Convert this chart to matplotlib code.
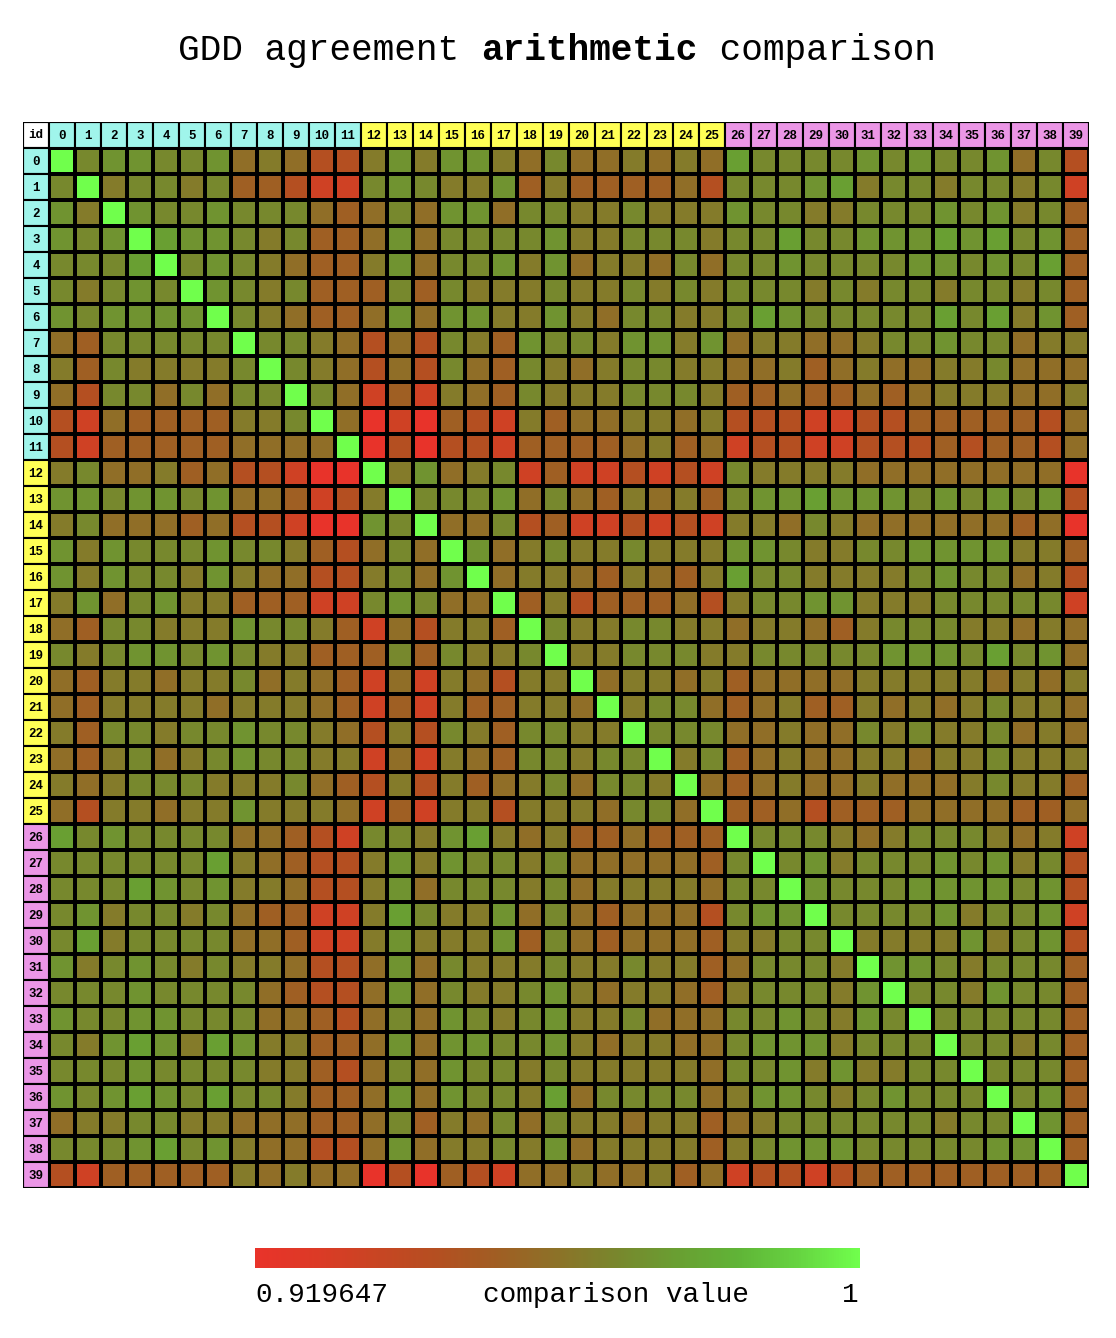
import numpy as np
import matplotlib
matplotlib.use('Agg')
import matplotlib.pyplot as plt
from matplotlib.colors import LinearSegmentedColormap, Normalize
from matplotlib.patches import Rectangle
from matplotlib.cm import ScalarMappable

# ---------------- data ----------------
ids = list(range(40))
group_sizes = [12, 14, 14]
group_colors = ['#a0f5eb', '#ffff55', '#eb96e6']
vmin, vmax = 0.919647, 1.0

# upper triangle rows: row_i holds values for columns i+1 .. 39 (diagonal = 1)
row_00 = [0.968, 0.972, 0.972, 0.968, 0.968, 0.972, 0.958, 0.963, 0.958, 0.944,
          0.944, 0.963, 0.972, 0.963, 0.972, 0.972, 0.963, 0.958, 0.968, 0.958,
          0.958, 0.963, 0.958, 0.963, 0.958, 0.976, 0.968, 0.968, 0.968, 0.968,
          0.972, 0.968, 0.972, 0.968, 0.968, 0.972, 0.958, 0.968, 0.944]
row_01 = [0.963, 0.968, 0.968, 0.963, 0.968, 0.952, 0.952, 0.944, 0.933, 0.933,
          0.968, 0.972, 0.968, 0.963, 0.963, 0.972, 0.952, 0.963, 0.952, 0.952,
          0.952, 0.952, 0.958, 0.944, 0.968, 0.968, 0.968, 0.972, 0.976, 0.963,
          0.968, 0.968, 0.963, 0.968, 0.968, 0.963, 0.968, 0.933]
row_02 = [0.972, 0.968, 0.968, 0.972, 0.968, 0.968, 0.968, 0.958, 0.952, 0.958,
          0.968, 0.958, 0.972, 0.972, 0.958, 0.968, 0.968, 0.963, 0.963, 0.968,
          0.963, 0.963, 0.963, 0.972, 0.968, 0.968, 0.963, 0.963, 0.968, 0.968,
          0.968, 0.972, 0.968, 0.972, 0.963, 0.968, 0.952]
row_03 = [0.976, 0.972, 0.972, 0.968, 0.963, 0.968, 0.952, 0.952, 0.958, 0.972,
          0.958, 0.968, 0.968, 0.968, 0.968, 0.972, 0.963, 0.963, 0.968, 0.968,
          0.968, 0.963, 0.968, 0.968, 0.976, 0.968, 0.968, 0.972, 0.972, 0.972,
          0.976, 0.972, 0.976, 0.968, 0.972, 0.952]
row_04 = [0.968, 0.972, 0.968, 0.963, 0.958, 0.952, 0.952, 0.963, 0.972, 0.958,
          0.968, 0.968, 0.972, 0.963, 0.972, 0.958, 0.963, 0.963, 0.958, 0.968,
          0.958, 0.968, 0.968, 0.972, 0.968, 0.968, 0.968, 0.968, 0.972, 0.972,
          0.968, 0.972, 0.968, 0.976, 0.952]
row_05 = [0.972, 0.968, 0.963, 0.968, 0.952, 0.952, 0.952, 0.968, 0.952, 0.968,
          0.963, 0.963, 0.963, 0.968, 0.963, 0.963, 0.968, 0.963, 0.968, 0.963,
          0.968, 0.968, 0.968, 0.963, 0.968, 0.963, 0.968, 0.968, 0.963, 0.968,
          0.968, 0.963, 0.968, 0.952]
row_06 = [0.968, 0.963, 0.958, 0.952, 0.952, 0.958, 0.972, 0.958, 0.972, 0.972,
          0.963, 0.963, 0.972, 0.963, 0.958, 0.968, 0.968, 0.963, 0.963, 0.968,
          0.976, 0.972, 0.968, 0.968, 0.968, 0.968, 0.968, 0.976, 0.968, 0.976,
          0.963, 0.972, 0.952]
row_07 = [0.968, 0.968, 0.963, 0.958, 0.944, 0.958, 0.944, 0.968, 0.963, 0.952,
          0.972, 0.968, 0.968, 0.963, 0.972, 0.972, 0.963, 0.972, 0.958, 0.963,
          0.963, 0.958, 0.958, 0.963, 0.968, 0.968, 0.972, 0.968, 0.968, 0.958,
          0.963, 0.963]
row_08 = [0.968, 0.963, 0.958, 0.944, 0.958, 0.944, 0.968, 0.958, 0.952, 0.968,
          0.963, 0.958, 0.963, 0.968, 0.968, 0.963, 0.963, 0.958, 0.958, 0.963,
          0.952, 0.958, 0.963, 0.958, 0.958, 0.963, 0.963, 0.968, 0.958, 0.958,
          0.958]
row_09 = [0.968, 0.958, 0.933, 0.952, 0.933, 0.963, 0.958, 0.952, 0.968, 0.963,
          0.963, 0.963, 0.968, 0.968, 0.968, 0.963, 0.952, 0.952, 0.958, 0.952,
          0.952, 0.958, 0.952, 0.958, 0.963, 0.963, 0.963, 0.958, 0.958, 0.963]
row_10 = [0.958, 0.920, 0.933, 0.920, 0.952, 0.944, 0.933, 0.963, 0.952, 0.958,
          0.958, 0.963, 0.963, 0.958, 0.963, 0.944, 0.944, 0.944, 0.933, 0.933,
          0.944, 0.944, 0.952, 0.952, 0.952, 0.952, 0.952, 0.944, 0.958]
row_11 = [0.920, 0.944, 0.920, 0.944, 0.944, 0.933, 0.952, 0.952, 0.952, 0.952,
          0.958, 0.963, 0.952, 0.958, 0.933, 0.944, 0.944, 0.933, 0.933, 0.944,
          0.944, 0.944, 0.952, 0.944, 0.952, 0.952, 0.944, 0.958]
row_12 = [0.963, 0.972, 0.958, 0.963, 0.968, 0.933, 0.952, 0.933, 0.933, 0.944,
          0.933, 0.944, 0.933, 0.968, 0.963, 0.963, 0.963, 0.963, 0.958, 0.958,
          0.958, 0.958, 0.958, 0.958, 0.958, 0.958, 0.920]
row_13 = [0.968, 0.968, 0.968, 0.972, 0.958, 0.968, 0.958, 0.952, 0.963, 0.958,
          0.963, 0.952, 0.968, 0.972, 0.972, 0.976, 0.972, 0.972, 0.972, 0.968,
          0.972, 0.968, 0.972, 0.968, 0.972, 0.944]
row_14 = [0.958, 0.958, 0.968, 0.944, 0.952, 0.933, 0.933, 0.944, 0.933, 0.944,
          0.933, 0.963, 0.963, 0.958, 0.968, 0.963, 0.958, 0.958, 0.958, 0.958,
          0.958, 0.958, 0.952, 0.958, 0.920]
row_15 = [0.972, 0.958, 0.963, 0.968, 0.963, 0.963, 0.968, 0.963, 0.963, 0.963,
          0.972, 0.972, 0.968, 0.963, 0.963, 0.968, 0.968, 0.972, 0.972, 0.972,
          0.972, 0.963, 0.963, 0.952]
row_16 = [0.958, 0.963, 0.963, 0.958, 0.952, 0.963, 0.958, 0.952, 0.963, 0.976,
          0.968, 0.968, 0.963, 0.963, 0.963, 0.963, 0.968, 0.972, 0.968, 0.968,
          0.958, 0.963, 0.944]
row_17 = [0.952, 0.963, 0.944, 0.952, 0.952, 0.952, 0.958, 0.944, 0.963, 0.968,
          0.968, 0.972, 0.972, 0.963, 0.963, 0.963, 0.968, 0.968, 0.968, 0.968,
          0.968, 0.933]
row_18 = [0.968, 0.963, 0.963, 0.968, 0.968, 0.963, 0.963, 0.958, 0.963, 0.963,
          0.958, 0.952, 0.963, 0.968, 0.968, 0.968, 0.963, 0.963, 0.958, 0.963,
          0.958]
row_19 = [0.963, 0.963, 0.968, 0.968, 0.968, 0.963, 0.963, 0.968, 0.968, 0.968,
          0.968, 0.968, 0.972, 0.972, 0.972, 0.968, 0.976, 0.968, 0.972, 0.958]
row_20 = [0.958, 0.963, 0.963, 0.958, 0.963, 0.952, 0.958, 0.958, 0.958, 0.958,
          0.963, 0.963, 0.963, 0.963, 0.963, 0.958, 0.963, 0.958, 0.963]
row_21 = [0.963, 0.968, 0.968, 0.958, 0.952, 0.958, 0.963, 0.952, 0.952, 0.963,
          0.958, 0.963, 0.958, 0.963, 0.968, 0.963, 0.963, 0.958]
row_22 = [0.968, 0.968, 0.968, 0.958, 0.958, 0.963, 0.958, 0.958, 0.968, 0.963,
          0.968, 0.963, 0.963, 0.968, 0.958, 0.963, 0.958]
row_23 = [0.963, 0.968, 0.952, 0.958, 0.963, 0.958, 0.958, 0.963, 0.963, 0.958,
          0.963, 0.963, 0.968, 0.963, 0.963, 0.963]
row_24 = [0.958, 0.952, 0.958, 0.963, 0.958, 0.958, 0.963, 0.958, 0.958, 0.958,
          0.963, 0.968, 0.963, 0.963, 0.952]
row_25 = [0.952, 0.952, 0.958, 0.944, 0.952, 0.952, 0.952, 0.958, 0.958, 0.958,
          0.958, 0.952, 0.952, 0.958]
row_26 = [0.968, 0.968, 0.968, 0.963, 0.958, 0.963, 0.968, 0.968, 0.968, 0.963,
          0.958, 0.963, 0.933]
row_27 = [0.968, 0.972, 0.963, 0.968, 0.968, 0.968, 0.972, 0.968, 0.972, 0.963,
          0.968, 0.944]
row_28 = [0.972, 0.968, 0.968, 0.968, 0.972, 0.972, 0.972, 0.972, 0.968, 0.972,
          0.944]
row_29 = [0.968, 0.968, 0.968, 0.968, 0.972, 0.963, 0.968, 0.968, 0.972, 0.933]
row_30 = [0.963, 0.963, 0.963, 0.963, 0.972, 0.963, 0.968, 0.972, 0.944]
row_31 = [0.972, 0.972, 0.968, 0.963, 0.968, 0.968, 0.968, 0.952]
row_32 = [0.968, 0.968, 0.963, 0.972, 0.968, 0.968, 0.952]
row_33 = [0.968, 0.968, 0.968, 0.968, 0.968, 0.952]
row_34 = [0.968, 0.968, 0.963, 0.968, 0.952]
row_35 = [0.968, 0.968, 0.968, 0.952]
row_36 = [0.968, 0.972, 0.952]
row_37 = [0.972, 0.952]
row_38 = [0.952]

rows = [row_00, row_01, row_02, row_03, row_04, row_05, row_06, row_07, row_08, row_09,
        row_10, row_11, row_12, row_13, row_14, row_15, row_16, row_17, row_18, row_19,
        row_20, row_21, row_22, row_23, row_24, row_25, row_26, row_27, row_28, row_29,
        row_30, row_31, row_32, row_33, row_34, row_35, row_36, row_37, row_38]

n = len(ids)
M = np.ones((n, n))
for i, r in enumerate(rows):
    assert len(r) == n - 1 - i, (i, len(r))
    for k, v in enumerate(r):
        j = i + 1 + k
        M[i, j] = v
        M[j, i] = v

# colormap (red -> brown -> olive -> green)
cmap_pos = [0.0, 0.1, 0.2, 0.3, 0.4, 0.5, 0.6, 0.7, 0.8, 0.9, 1.0]
cmap_col = ['#e9332a', '#dc3a26', '#c84523', '#b44f21', '#a05e23', '#8c7228',
            '#78872d', '#699f32', '#60b437', '#66d441', '#70ff4c']
cmap = LinearSegmentedColormap.from_list('gdd', list(zip(cmap_pos, cmap_col)))
norm = Normalize(vmin=vmin, vmax=vmax)

# header colours per id
hdr_colors = []
for size, col in zip(group_sizes, group_colors):
    hdr_colors += [col] * size

W, H = 1116, 1338
fig = plt.figure(figsize=(W / 100, H / 100), dpi=100)
mono = 'Liberation Mono'

ax = fig.add_axes([23 / W, 1 - 1188 / H, 1066 / W, 1066 / H])
ax.set_xlim(0, n + 1)
ax.set_ylim(n + 1, 0)
ax.axis('off')

lw = 1.5
edges = np.arange(1, n + 2)
ax.pcolormesh(edges, edges, M, cmap=cmap, norm=norm, edgecolors='black', linewidth=lw)

ax.add_patch(Rectangle((0, 0), 1, 1, facecolor='white', edgecolor='black', lw=lw))
ax.text(0.5, 0.5, 'id', ha='center', va='center', fontsize=9, fontweight='bold', family=mono)
for k in ids:
    ax.add_patch(Rectangle((k + 1, 0), 1, 1, facecolor=hdr_colors[k], edgecolor='black', lw=lw))
    ax.add_patch(Rectangle((0, k + 1), 1, 1, facecolor=hdr_colors[k], edgecolor='black', lw=lw))
    ax.text(k + 1.5, 0.55, str(k), ha='center', va='center', fontsize=9, fontweight='bold', family=mono)
    ax.text(0.5, k + 1.55, str(k), ha='center', va='center', fontsize=9, fontweight='bold', family=mono)
ax.add_patch(Rectangle((0, 0), n + 1, n + 1, facecolor='none', edgecolor='black', lw=lw, zorder=5))

# title (mixed weight, monospace)
fs_t = 26
cw = 0.6 * fs_t * 100 / 72
parts = [('GDD agreement ', 'normal'), ('arithmetic', 'bold'), (' comparison', 'normal')]
total = sum(len(p) for p, _ in parts)
x0 = 557 - total * cw / 2
ty = 1 - 50 / H
for p, wgt in parts:
    fig.text(x0 / W, ty, p, ha='left', va='center', fontsize=fs_t, fontweight=wgt, family=mono)
    x0 += len(p) * cw

# colorbar
cax = fig.add_axes([255 / W, 1 - 1268 / H, 605 / W, 20 / H])
cb = fig.colorbar(ScalarMappable(norm=norm, cmap=cmap), cax=cax, orientation='horizontal')
cb.set_ticks([])
cb.outline.set_visible(False)

ly = 1 - 1295 / H
fig.text(255 / W, ly, '%g' % vmin, ha='left', va='center', fontsize=20, family=mono)
fig.text(616 / W, ly, 'comparison value', ha='center', va='center', fontsize=20, family=mono)
fig.text(859 / W, ly, '%g' % vmax, ha='right', va='center', fontsize=20, family=mono)

fig.savefig('out.png', dpi=100, facecolor='white')
